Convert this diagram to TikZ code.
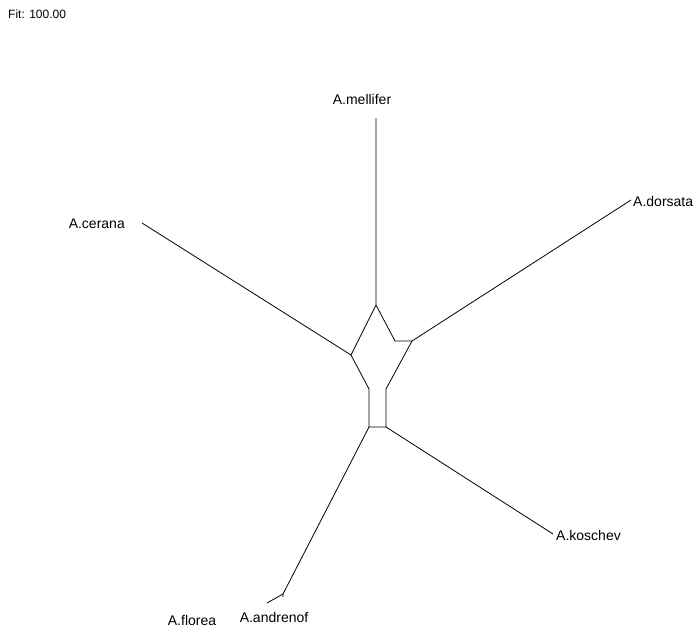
\documentclass[tikz,border=0pt]{standalone}
\usepackage{fontspec}
\setmainfont{Liberation Sans}
\tikzset{
	split/.style={line width=0.8pt, color=black},
	taxon/.style={font=\fontsize{14}{16}\selectfont, inner sep=0pt}
}
\begin{document}
\begin{tikzpicture}[x=1pt, y=-1pt]
		\useasboundingbox (0,0) rectangle (700,633);
		\node[anchor=west, inner sep=0pt, font=\fontsize{12}{14}\selectfont] (fit) at (8,14) {Fit: 100.00};
		% splits box
		\coordinate (top) at (376,305);
		\coordinate (lft) at (351,355);
		\coordinate (rin) at (395,341);
		\coordinate (rout) at (412,341);
		\coordinate (llow) at (369,389);
		\coordinate (rlow) at (386,389);
		\coordinate (bl) at (369,427);
		\coordinate (br) at (386,427);
		\coordinate (fa) at (283,594);
		% leaf ends
		\coordinate (mel) at (376,118);
		\coordinate (dor) at (631,200);
		\coordinate (cer) at (142,223);
		\coordinate (kos) at (553,534);
		\coordinate (flo) at (267,603);
		\coordinate (and) at (283,597);
		
		\draw[split] (top) -- (lft) -- (llow) -- (bl) -- (br) -- (rlow) -- (rout) -- (rin) -- (top);
		\draw[split] (top) -- (mel) (rout) -- (dor) (lft) -- (cer) (br) -- (kos) (bl) -- (fa);
		\draw[split] (fa) -- (flo) (fa) -- (and);
		
		\node[taxon] (mellifer) at (362,99) {A.mellifer};
		\node[taxon, anchor=west] (dorsata) at (633,201) {A.dorsata};
		\node[taxon, anchor=east] (cerana) at (125,224) {A.cerana};
		\node[taxon, anchor=west] (koschev) at (556,535) {A.koschev};
		\node[taxon] (florea) at (192,620) {A.florea};
		\node[taxon] (andrenof) at (274,617) {A.andrenof};
	\end{tikzpicture}
\end{document}
